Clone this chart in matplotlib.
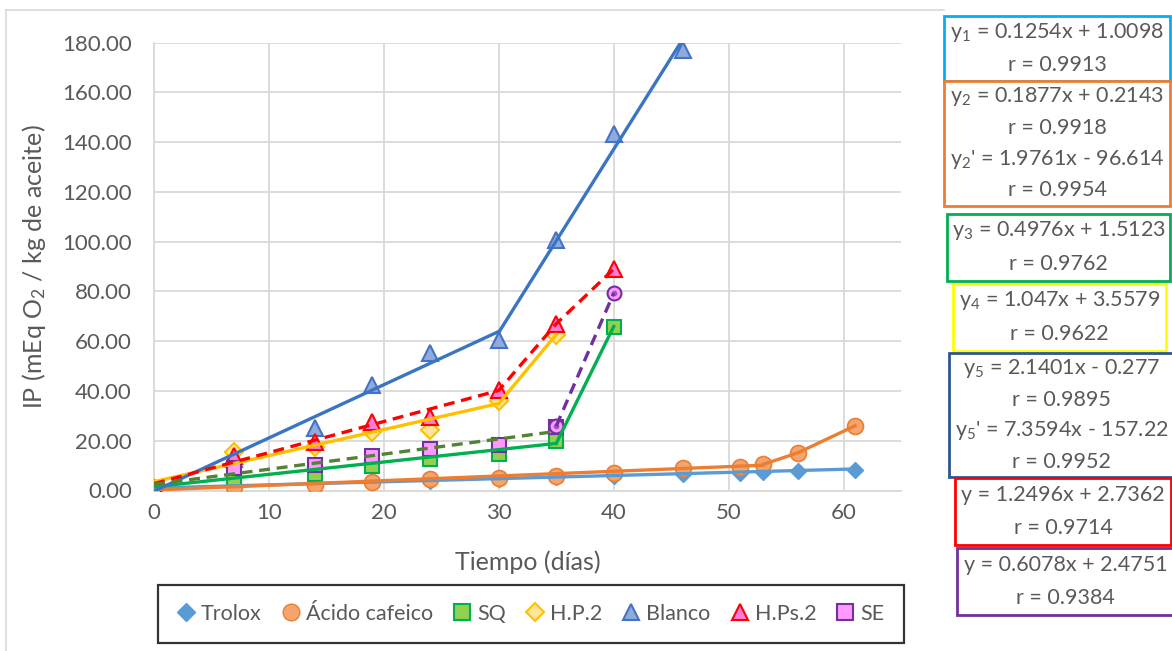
import matplotlib
matplotlib.use("Agg")
import matplotlib.pyplot as plt
from matplotlib.patches import Rectangle
from matplotlib.lines import Line2D
import numpy as np

plt.rcParams['font.family'] = ['Lato', 'DejaVu Sans']
plt.rcParams['mathtext.fontset'] = 'custom'
plt.rcParams['mathtext.rm'] = 'Lato'
plt.rcParams['mathtext.it'] = 'Lato:italic'
plt.rcParams['mathtext.bf'] = 'Lato:bold'

GRAY = '#595959'

# measured peroxide index per formulation
dias_largo = [0, 7, 14, 19, 24, 30, 35, 40, 46, 51, 53, 56, 61]
trolox = [0.5, 1.8, 2.6, 3.3, 4.0, 4.8, 5.5, 6.0, 6.7, 7.2, 7.3, 8.0, 8.2]
cafeico = [0.3, 1.3, 2.2, 3.5, 4.5, 4.9, 5.8, 7.2, 8.9, 9.6, 10.5, 15.1, 26.0]

dias_40 = [0, 7, 14, 19, 24, 30, 35, 40]
sq = [0.5, 4.5, 6.5, 9.8, 12.5, 14.5, 20.0, 65.9]
hps2 = [1.0, 14.0, 19.6, 27.5, 29.7, 40.5, 67.0, 89.0]

dias_35 = [0, 7, 14, 19, 24, 30, 35]
hp2 = [1.0, 15.6, 17.4, 23.7, 24.3, 36.1, 62.7]
se = [0.5, 8.9, 10.3, 14.0, 16.6, 18.3, 25.7]

dias_46 = [0, 7, 14, 19, 24, 30, 35, 40, 46]
blanco = [0.5, 12.5, 25.0, 42.5, 55.3, 60.5, 100.5, 143.5, 177.2]

dias_se2 = [35, 40]
se2 = [25.9, 79.3]

# linear fits (slope, intercept, x start, x end)
fit_trolox = (0.1254, 1.0098, 0, 61)
fit_cafeico = (0.1877, 0.2143, 0, 53)
fit_sq = (0.4976, 1.5123, 0, 35)
fit_hp2 = (1.047, 3.5579, 0, 30)
fit_blanco = (2.1401, -0.277, 0, 30)
fit_blanco2 = (7.3594, -157.22, 30, 46)
fit_hps2 = (1.2496, 2.7362, 0, 30)
fit_se = (0.6078, 2.4751, 0, 35)

eq_lines = [
    ["y$_1$ = 0.1254x + 1.0098", "r = 0.9913"],
    ["y$_2$ = 0.1877x + 0.2143", "r = 0.9918", "y$_2$' = 1.9761x - 96.614", "r = 0.9954"],
    ["y$_3$ = 0.4976x + 1.5123", "r = 0.9762"],
    ["y$_4$ = 1.047x + 3.5579", "r = 0.9622"],
    ["y$_5$ = 2.1401x - 0.277", "r = 0.9895", "y$_5$' = 7.3594x - 157.22", "r = 0.9952"],
    ["y = 1.2496x + 2.7362", "r = 0.9714"],
    ["y = 0.6078x + 2.4751", "r = 0.9384"],
]
eq_colors = ['#00B0F0', '#ED7D31', '#00B050', '#FFFF00', '#2F5597', '#FF0000', '#7030A0']
# box extents in pixels: left, top, right, bottom
eq_boxes = [(944, 16, 1170, 81), (944, 81, 1170, 206), (947, 214, 1170, 281),
            (953, 284, 1166, 351), (949, 353, 1174, 477), (955, 478, 1171, 545),
            (957, 548, 1174, 615)]

W, H = 1172, 651
fig = plt.figure(figsize=(W / 100, H / 100), dpi=100)
ax = fig.add_axes([154 / W, (H - 490.5) / H, (901 - 154) / W, (490.5 - 42.7) / H])


def fit_line(fit):
    m, b, x0, x1 = fit
    xs = np.array([x0, x1])
    return xs, m * xs + b


# markers
mk = dict(linestyle='none', zorder=3)
ax.plot(dias_largo, trolox, marker='D', ms=8.5, mfc='#5B9BD5', mec='#5B9BD5', **mk)
ax.plot(dias_largo, cafeico, marker='o', ms=11.5, mfc='#F4A46C', mec='#ED7D31', mew=1.2, **mk)
ax.plot(dias_40, sq, marker='s', ms=10.5, mfc='#92D050', mec='#00B050', mew=1.5, **mk)
ax.plot(dias_35, hp2, marker='D', ms=9, mfc='#FFE699', mec='#FFC000', mew=1.5, **mk)
ax.plot(dias_46, blanco, marker='^', ms=12, mfc='#8FAADC', mec='#4472C4', mew=1.5, **mk)
ax.plot(dias_40, hps2, marker='^', ms=11, mfc='#FF79D8', mec='#FF0000', mew=1.5, **mk)
ax.plot(dias_35, se, marker='s', ms=10.5, mfc='#FF99FF', mec='#7030A0', mew=1.5, **mk)
ax.plot(dias_se2, se2, marker='o', ms=10, mfc='#FF99FF', mec='#7030A0', mew=1.5, **mk)
ax.plot(dias_se2, se2, marker='o', ms=3, mfc='#A050C0', mec='#A050C0', **mk)

# fitted segments and connecting lines
lw = 2.4
ax.plot(*fit_line(fit_trolox), color='#5B9BD5', lw=lw, zorder=4)
ax.plot(*fit_line(fit_cafeico), color='#ED7D31', lw=lw, zorder=4)
ax.plot(dias_largo[10:], cafeico[10:], color='#ED7D31', lw=lw, zorder=4)

xs, ys = fit_line(fit_sq)
ax.plot(xs, ys, color='#00B050', lw=lw, zorder=4)
ax.plot([xs[-1], dias_40[-1]], [ys[-1], sq[-1]], color='#00B050', lw=lw, zorder=4)

xs, ys = fit_line(fit_hp2)
ax.plot(xs, ys, color='#FFC000', lw=lw, zorder=4)
ax.plot([xs[-1], dias_35[-1]], [ys[-1], hp2[-1]], color='#FFC000', lw=lw, zorder=4)

ax.plot(*fit_line(fit_blanco), color='#3A75C4', lw=lw, zorder=4)
ax.plot(*fit_line(fit_blanco2), color='#3A75C4', lw=lw, zorder=4)

xs, ys = fit_line(fit_hps2)
ax.plot(list(xs) + dias_40[6:], list(ys) + hps2[6:], color='#FF0000', lw=lw,
        ls=(0, (3.3, 2)), zorder=4)

ax.plot(*fit_line(fit_se), color='#548235', lw=lw, ls=(0, (3.3, 2)), zorder=4)
ax.plot(dias_se2, se2, color='#7030A0', lw=lw, ls=(0, (3.3, 2)), zorder=4)

ax.set_xlim(0, 65)
ax.set_ylim(0, 180)
ax.set_xticks(np.arange(0, 61, 10))
ax.set_yticks(np.arange(0, 181, 20))
ax.yaxis.set_major_formatter(lambda v, p: f"{v:.2f}")
ax.grid(True, color='#D9D9D9', lw=1.3, zorder=0)
ax.set_axisbelow(True)
for side in ['top', 'right']:
    ax.spines[side].set_visible(False)
for side in ['left', 'bottom']:
    ax.spines[side].set_color('#D9D9D9')
    ax.spines[side].set_linewidth(1.3)
ax.tick_params(length=0, labelsize=16, labelcolor=GRAY)
ax.tick_params(axis='y', pad=16)
ax.tick_params(axis='x', pad=9)

ax.set_xlabel("Tiempo (días)", fontsize=18, color=GRAY, labelpad=20)
ax.set_ylabel("IP (mEq O$_2$ / kg de aceite)", fontsize=18, color=GRAY, labelpad=10)

# legend below the plot
handles = [
    Line2D([], [], ls='none', marker='D', ms=9, mfc='#5B9BD5', mec='#5B9BD5'),
    Line2D([], [], ls='none', marker='o', ms=12, mfc='#F4A46C', mec='#ED7D31'),
    Line2D([], [], ls='none', marker='s', ms=11, mfc='#92D050', mec='#00B050', mew=1.5),
    Line2D([], [], ls='none', marker='D', ms=9, mfc='#FFE699', mec='#FFC000', mew=1.5),
    Line2D([], [], ls='none', marker='^', ms=12, mfc='#8FAADC', mec='#4472C4', mew=1.5),
    Line2D([], [], ls='none', marker='^', ms=11, mfc='#FF79D8', mec='#FF0000', mew=1.5),
    Line2D([], [], ls='none', marker='s', ms=11, mfc='#FF99FF', mec='#7030A0', mew=1.5),
]
labels = ["Trolox", "Ácido cafeico", "SQ", "H.P.2", "Blanco", "H.Ps.2", "SE"]
leg = fig.legend(handles, labels, loc='center', bbox_to_anchor=(531 / W, 1 - 614 / H),
                 ncol=7, fontsize=15.5, frameon=True, fancybox=False,
                 handlelength=0.8, handletextpad=0.3, columnspacing=0.95,
                 borderpad=0.9, labelcolor=GRAY)
leg.get_frame().set_edgecolor('black')
leg.get_frame().set_linewidth(1.6)

# outer chart border
fig.add_artist(Line2D([6 / W, 944 / W], [1 - 10 / H, 1 - 10 / H], color='#D9D9D9', lw=1.2))
fig.add_artist(Line2D([6 / W, 6 / W], [1 - 10 / H, 0], color='#D9D9D9', lw=1.2))

# regression equation boxes
for lines, col, (l, t, r, b) in zip(eq_lines, eq_colors, eq_boxes):
    fig.add_artist(Rectangle((l / W, 1 - b / H), (r - l) / W, (b - t) / H,
                             fill=True, facecolor='white', edgecolor=col, lw=2,
                             transform=fig.transFigure))
    n = len(lines)
    step = (b - t) / n
    cx = (l + r) / 2
    for i, txt in enumerate(lines):
        cy = t + step * (i + 0.5)
        fig.text(cx / W, 1 - cy / H, txt, ha='center', va='center',
                 fontsize=15.5, color=GRAY)

fig.savefig("out.png", dpi=100)
